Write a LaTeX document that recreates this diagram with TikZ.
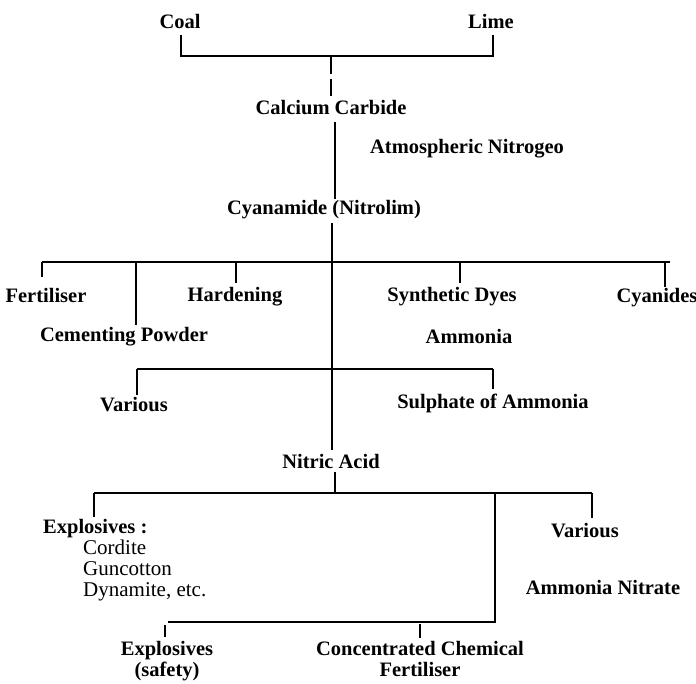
\documentclass[tikz,border=0pt]{standalone}
\usepackage{fontspec}
\setmainfont{Liberation Serif}
\usetikzlibrary{positioning}

\tikzset{
  item/.style={font=\fontsize{20.5}{21}\selectfont\bfseries, inner sep=0pt, anchor=base},
  sub/.style={font=\fontsize{21}{21}\selectfont, inner sep=0pt, anchor=north west, align=left},
  bar/.style={line width=2.2pt},
  link/.style={line width=1.6pt},
}

\begin{document}
\begin{tikzpicture}[x=1pt,y=-1pt]
  \useasboundingbox (0,0) rectangle (696,684);
  % raw materials
  \node[item] (coal) at (180,29) {Coal};
  \node[item] (lime) at (491,29) {Lime};
  \node[item] (carbide) at (331,115) {Calcium Carbide};
  \node[item] (nitrogen) at (467,154) {Atmospheric Nitrogeo};
  \node[item] (cyan) at (324,215) {Cyanamide (Nitrolim)};
  % first products
  \node[item] (fert) at (46,303) {Fertiliser};
  \node[item] (cement) at (124,342) {Cementing Powder};
  \node[item] (harden) at (235,302) {Hardening};
  \node[item] (dyes) at (452,302) {Synthetic Dyes};
  \node[item] (cyanides) at (657,303) {Cyanides};
  \node[item] (ammonia) at (469,344) {Ammonia};
  \node[item] (various) at (134,411) {Various};
  \node[item] (sulphate) at (493,409) {Sulphate of Ammonia};
  \node[item] (nitric) at (331,468) {Nitric Acid};
  % nitric acid products
  \node[item, anchor=base west] (expl) at (43,533) {Explosives :};
  \node[sub] (uses) at (83,540) {Cordite\\Guncotton\\Dynamite, etc.};
  \node[item] (various2) at (585,537) {Various};
  \node[item] (nitrate) at (603,594) {Ammonia Nitrate};
  \node[item, anchor=north, align=center] (safety) at (167,641) {Explosives\\(safety)};
  \node[item, anchor=north, align=center] (concfert) at (420,641) {Concentrated Chemical\\Fertiliser};

  % bar junctions
  \coordinate (c1) at (181,35);
  \coordinate (c2) at (181,56);
  \coordinate (c3) at (493,56);
  \coordinate (c4) at (493,35);
  \coordinate (d1) at (331,57);
  \coordinate (t1) at (335,122);
  \coordinate (b1w) at (42,262);
  \coordinate (b1e) at (670,262);
  \coordinate (k2) at (136,262);
  \coordinate (k3) at (236,262);
  \coordinate (k4) at (460,262);
  \coordinate (k5) at (665,262);
  \coordinate (b2w) at (137,369);
  \coordinate (b2e) at (493,369);
  \coordinate (t2) at (332,369);
  \coordinate (t3) at (335,493);
  \coordinate (b3w) at (94,493);
  \coordinate (b3e) at (592,493);
  \coordinate (b3m) at (495,493);
  \coordinate (b4w) at (168,622);
  \coordinate (b4e) at (495,622);
  \coordinate (k6) at (165,625);
  \coordinate (k7) at (420,624);

  % coal and lime
  \draw[bar] (c1) -- (c2) -- (c3) -- (c4);
  \draw[link, dash pattern=on 17pt off 5pt] (d1) -- (d1 |- carbide.north);
  \draw[link] (t1) -- ([yshift=2pt]cyan.north -| t1);
  % cyanamide
  \draw[link] ([yshift=-3pt]cyan.south -| t2) -- (t2);
  \draw[bar] (b1w) -- (b1e);
  \draw[link] (b1w) -- ++(0,15);
  \draw[link] (k2) -- ++(0,63);
  \draw[link] (k3) -- ++(0,21);
  \draw[link] (k4) -- ++(0,21);
  \draw[link] (k5) -- ++(0,25);
  % ammonia
  \draw[bar] (b2w) -- (b2e);
  \draw[link] (b2w) -- ++(0,26);
  \draw[link] (b2e) -- ++(0,20);
  \draw[link] (t2) -- ([yshift=4pt]nitric.north -| t2);
  % nitric acid
  \draw[link] ([yshift=-4pt]nitric.south -| t3) -- (t3);
  \draw[bar] (b3w) -- (b3e);
  \draw[link] (b3w) -- ++(0,24);
  \draw[link] (b3e) -- ++(0,25);
  \draw[bar] (b3m) -- (b4e) -- (b4w);
  \draw[link] (k6) -- ++(0,12);
  \draw[link] (k7) -- ++(0,14);
\end{tikzpicture}
\end{document}
